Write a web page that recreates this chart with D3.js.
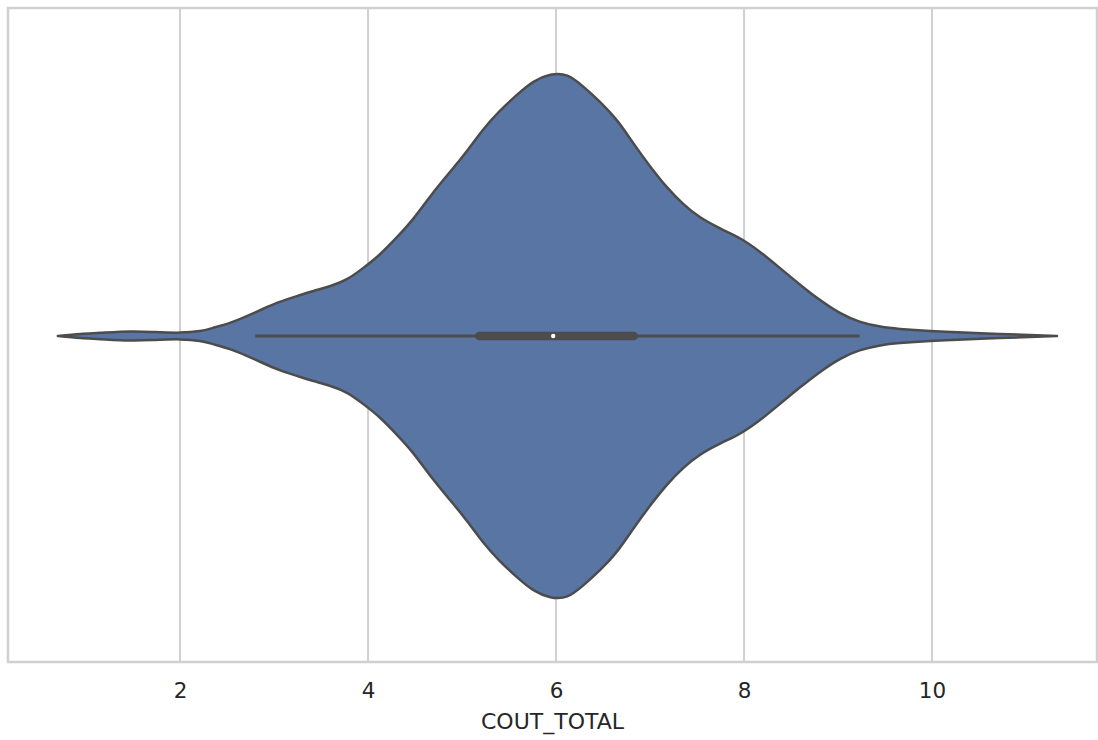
<!DOCTYPE html>
<html>
<head>
<meta charset="utf-8">
<script src="https://cdn.jsdelivr.net/npm/d3@7"></script>
<style>
  body { margin: 0; background: #fff; }
  svg { display: block; }
  .tick text, .xlabel { font-family: "DejaVu Sans", sans-serif; fill: #262626; }
</style>
</head>
<body>
<svg width="1098" height="740"></svg>
<script>
// COUT_TOTAL values where the violin outline was read
var gridValues = [0.70, 0.94, 1.15, 1.47, 1.73, 2.00, 2.21, 2.35, 2.53, 2.71, 2.88, 3.06, 3.25,
  3.42, 3.60, 3.78, 3.95, 4.13, 4.31, 4.48, 4.69, 4.87, 5.05, 5.22, 5.40, 5.59, 5.76, 5.94,
  6.12, 6.29, 6.47, 6.65, 6.82, 7.00, 7.18, 7.35, 7.53, 7.75, 7.96, 8.17, 8.38, 8.60,
  8.81, 9.02, 9.23, 9.45, 9.66, 9.98, 10.40, 10.72, 11.33];
// relative density (scaled so the peak is 1)
var density = [0, 0.008, 0.012, 0.017, 0.015, 0.013, 0.019, 0.031, 0.050, 0.076, 0.103, 0.130, 0.153,
  0.172, 0.191, 0.218, 0.260, 0.313, 0.378, 0.447, 0.546, 0.625, 0.705, 0.785, 0.858, 0.922, 0.970, 0.997,
  0.994, 0.952, 0.893, 0.822, 0.737, 0.648, 0.568, 0.505, 0.454, 0.410, 0.372, 0.321, 0.260, 0.195,
  0.137, 0.088, 0.055, 0.036, 0.027, 0.019, 0.012, 0.008, 0];
var tickValues = [2, 4, 6, 8, 10];
var whiskers = [2.80, 9.23];
var quartiles = [5.14, 6.87];
var median = 5.97;

var svg = d3.select("svg"),
    width = +svg.attr("width"),
    height = +svg.attr("height");

var mLeft = 8, mRight = 1097, mTop = 8, mBottom = 662;
var center = 336;

var x = d3.scaleLinear()
    .domain([0.17, 11.755])
    .range([mLeft, mRight]);

var w = d3.scaleLinear()
    .domain([0, 1])
    .range([0, 262]);

// grid
svg.append("g")
  .selectAll("line")
  .data(tickValues)
  .enter().append("line")
    .attr("x1", function(d) { return x(d); })
    .attr("x2", function(d) { return x(d); })
    .attr("y1", mTop)
    .attr("y2", mBottom)
    .attr("stroke", "#d0d0d0")
    .attr("stroke-width", 2);

var pts = gridValues.map(function(v, i) { return [v, density[i]]; });

var area = d3.area()
    .x(function(d) { return x(d[0]); })
    .y0(function(d) { return center + Math.max(0, w(d[1])); })
    .y1(function(d) { return center - Math.max(0, w(d[1])); })
    .curve(d3.curveNatural);

svg.append("path")
    .datum(pts)
    .attr("d", area)
    .attr("fill", "#5875a4")
    .attr("stroke", "#4c4c4c")
    .attr("stroke-width", 2.5)
    .attr("stroke-linejoin", "round");

// inner box
svg.append("line")
    .attr("x1", x(whiskers[0]))
    .attr("x2", x(whiskers[1]))
    .attr("y1", center)
    .attr("y2", center)
    .attr("stroke", "#4c4c4c")
    .attr("stroke-width", 2.8);

svg.append("line")
    .attr("x1", x(quartiles[0]) + 4)
    .attr("x2", x(quartiles[1]) - 4)
    .attr("y1", center)
    .attr("y2", center)
    .attr("stroke", "#4c4c4c")
    .attr("stroke-width", 8.5)
    .attr("stroke-linecap", "round");

svg.append("circle")
    .attr("cx", x(median))
    .attr("cy", center)
    .attr("r", 2.2)
    .attr("fill", "#ffffff");

// frame
svg.append("rect")
    .attr("x", mLeft)
    .attr("y", mTop)
    .attr("width", mRight - mLeft)
    .attr("height", mBottom - mTop)
    .attr("fill", "none")
    .attr("stroke", "#d0d0d0")
    .attr("stroke-width", 2.5);

var axis = svg.append("g")
    .attr("transform", "translate(0," + mBottom + ")")
    .call(d3.axisBottom(x).tickValues(tickValues).tickSize(0).tickPadding(21));
axis.select(".domain").remove();
axis.selectAll("text").attr("font-size", 21.5).attr("font-family", null);

svg.append("text")
    .attr("class", "xlabel")
    .attr("x", (mLeft + mRight) / 2)
    .attr("y", 729)
    .attr("text-anchor", "middle")
    .attr("font-size", 22)
    .text("COUT_TOTAL");
</script>
</body>
</html>
